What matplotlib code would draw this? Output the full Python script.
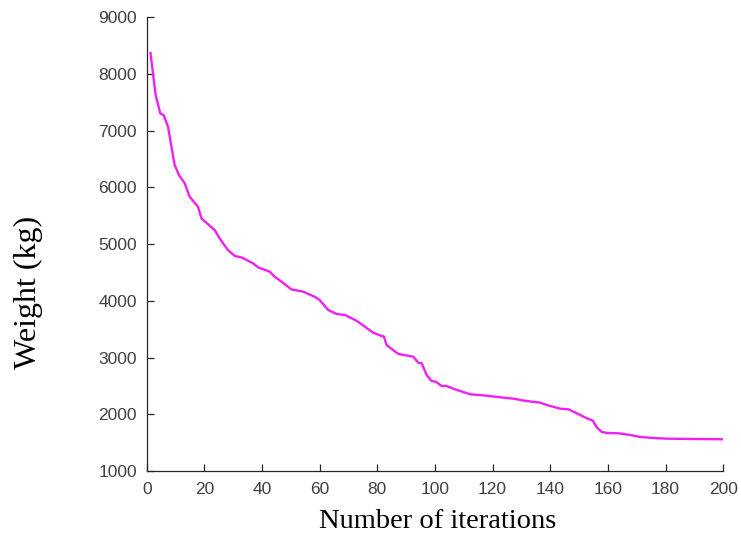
import numpy as np
import matplotlib.pyplot as plt

# convergence history
iterations = [1.3, 2.2, 3.1, 4.7, 5.9, 7.4, 8.6, 9.7, 11.2, 13.2, 14.9, 17.8, 19, 20.7,
              23.6, 25.3, 26.5, 28.2, 30.6, 32.9, 36.9, 38.6, 42.7, 44.4, 46.8, 50.2,
              54.3, 58.3, 60, 63, 65.9, 68.8, 72.8, 78.6, 81.5, 82.3, 83.2, 87.3, 92.5,
              94.2, 95.4, 97.1, 98.8, 100.3, 102.3, 104, 106.9, 112.2, 117.9, 122.6,
              127.2, 131.8, 136.5, 138.8, 143.4, 146.3, 149.2, 152.7, 154.8, 156.1,
              157.9, 159.6, 163.6, 167.7, 171.2, 175.8, 180.5, 200]
weight = [8370, 8000, 7626, 7303, 7273, 7067, 6715, 6392, 6216, 6070, 5833, 5657, 5452, 5375,
          5247, 5100, 5012, 4894, 4789, 4765, 4660, 4590, 4512, 4424, 4336, 4201,
          4160, 4071, 4013, 3837, 3767, 3749, 3648, 3437, 3380, 3370, 3220, 3062, 3014,
          2908, 2898, 2692, 2586, 2573, 2498, 2498, 2440, 2352, 2327, 2299,
          2274, 2233, 2204, 2163, 2098, 2087, 2016, 1928, 1886, 1770,
          1687, 1670, 1664, 1634, 1599, 1581, 1569, 1558]

plt.rcParams["font.family"] = "Liberation Sans"

fig = plt.figure(figsize=(7.41, 5.37), dpi=100)
ax = fig.add_axes([0.198, 0.123, 0.778, 0.845])

ax.plot(iterations, weight, color="#f020f0", linewidth=1.7)

ax.set_xlim(0, 200)
ax.set_ylim(1000, 9000)
ax.set_xticks(np.arange(0, 201, 20))
ax.set_yticks(np.arange(1000, 9001, 1000))

# matlab style: box off, ticks inside
for side in ["top", "right"]:
    ax.spines[side].set_visible(False)
for side in ["left", "bottom"]:
    ax.spines[side].set_color("#262626")
    ax.spines[side].set_linewidth(0.9)
ax.tick_params(direction="in", length=5, width=0.9, color="#262626",
               labelsize=12.5, labelcolor="#404040")
ax.tick_params(axis="y", pad=7)
ax.tick_params(axis="x", pad=8)

# labels sit a bit off-centre in the original
fig.text(0.591, 0.028, "Number of iterations", family="Liberation Serif",
         fontsize=20.5, ha="center", va="center")
fig.text(0.038, 0.456, "Weight (kg)", family="Liberation Serif",
         fontsize=23, ha="center", va="center", rotation=90)

fig.savefig("out.png", dpi=100)
